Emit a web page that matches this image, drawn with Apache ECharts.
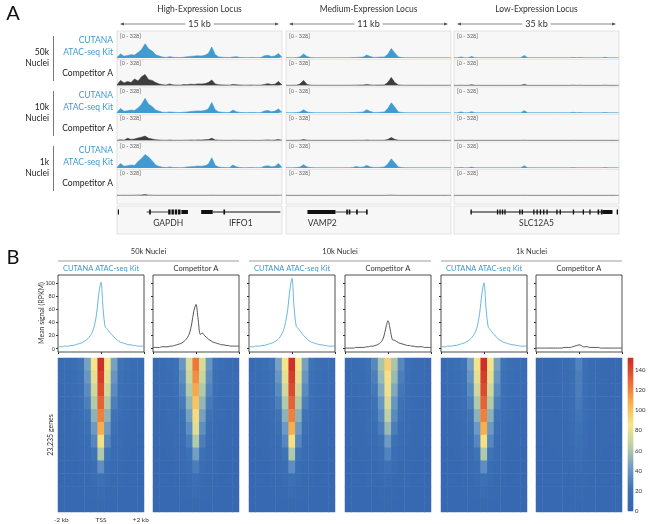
<!DOCTYPE html>
<html>
<head>
<meta charset="utf-8">
<script src="https://cdn.jsdelivr.net/npm/echarts@6/dist/echarts.min.js"></script>
<style>html,body{margin:0;padding:0;background:#fff}#main{width:650px;height:524px}</style>
</head>
<body>
<div id="main"></div>
<script>
// ---------- panel A track data (48 bins per locus, scale 0-328) ----------
var hiCut50   = [8,55,25,35,45,40,75,115,195,125,95,45,28,12,8,18,10,8,6,10,16,22,26,30,28,36,60,150,45,15,10,8,6,12,18,8,6,5,8,6,5,6,30,36,20,28,62,10];
var hiComp50  = [6,70,35,55,40,90,60,120,150,80,70,40,20,10,6,20,8,6,5,12,10,18,14,22,20,25,40,75,20,10,8,6,5,14,10,6,5,4,6,5,4,5,15,25,12,18,55,6];
var hiCut10   = [8,60,25,30,40,35,70,120,200,120,90,40,25,10,8,15,10,8,6,10,15,20,24,28,26,34,55,145,40,15,10,8,6,40,18,8,6,5,8,6,5,6,28,34,18,26,55,10];
var hiComp10  = [3,10,5,30,15,20,35,45,60,30,20,10,6,4,3,6,3,3,2,4,4,6,5,8,6,10,12,30,8,4,3,3,2,4,4,3,2,2,3,2,2,2,5,8,4,6,12,3];
var hiCut1    = [8,60,25,30,40,35,90,130,185,150,100,40,20,10,6,14,8,6,5,8,14,18,22,26,24,30,50,140,35,12,8,6,5,40,16,6,5,4,6,5,4,5,25,30,16,22,60,8];
var hiComp1   = [3,3,3,3,3,4,5,6,12,5,4,3,3,3,3,3,3,3,3,3,3,3,3,3,3,3,3,4,3,3,3,3,3,3,3,3,3,3,3,3,3,3,3,3,3,3,3,3];
var medCut50  = [4,4,4,6,15,55,20,6,4,4,3,3,3,3,3,3,3,5,4,6,8,10,12,40,20,8,10,12,14,50,130,70,15,6,4,4,3,3,3,3,3,3,3,3,3,3,3,3];
var medComp50 = [3,3,3,5,20,70,15,5,3,3,3,3,3,3,3,3,3,3,3,4,5,6,6,12,8,5,6,6,8,40,110,40,8,4,3,3,3,3,3,3,3,3,3,3,3,3,3,3];
var medCut10  = [4,4,4,6,12,45,15,6,4,4,3,3,3,3,3,3,3,5,4,6,8,10,14,45,20,8,8,10,14,60,140,80,15,6,4,4,3,3,3,3,3,3,3,3,3,3,3,3];
var medComp10 = [2,2,2,2,4,12,4,2,2,2,2,2,2,2,2,2,2,2,2,2,3,3,3,6,3,3,3,3,4,15,40,15,3,2,2,2,2,2,2,2,2,2,2,2,2,2,2,2];
var medCut1   = [4,4,4,6,12,45,15,6,4,4,3,3,3,3,3,3,3,5,4,6,20,10,14,35,15,8,8,10,14,55,125,70,15,6,4,4,3,3,3,3,3,3,3,3,3,3,3,3];
var medComp1  = [2,2,2,2,2,3,2,2,2,2,2,2,2,2,2,2,2,2,2,2,2,2,2,2,2,2,2,2,2,3,5,3,2,2,2,2,2,2,2,2,2,2,2,2,2,2,2,2];
var lowCut50  = [3,3,15,4,3,20,4,3,3,3,3,3,3,3,3,3,3,3,3,3,35,4,3,3,3,3,3,3,3,3,3,3,3,3,8,3,8,3,3,3,3,3,3,10,3,3,3,3];
var lowComp50 = [2,2,4,2,2,10,2,2,2,2,2,2,2,2,2,2,2,2,2,2,15,2,2,2,2,2,2,2,2,2,2,2,2,2,5,2,4,2,2,2,2,2,2,5,2,2,2,2];
var lowCut10  = [3,3,14,4,3,18,4,3,3,3,3,3,3,3,3,3,3,3,3,3,32,4,3,3,3,3,3,3,3,3,3,3,3,3,9,3,7,3,3,3,3,3,3,8,3,3,3,3];
var lowComp10 = [2,2,3,2,2,3,2,2,2,2,2,2,2,2,2,2,2,2,2,2,4,2,2,2,2,2,2,2,2,2,2,2,2,2,3,2,2,2,2,2,2,2,2,3,2,2,2,2];
var lowCut1   = [3,3,8,3,3,12,3,3,3,3,3,3,3,3,3,3,3,3,3,3,30,4,3,3,3,3,3,3,3,3,3,3,3,3,6,3,5,3,3,3,3,3,3,8,3,3,3,3];
var lowComp1  = [2,2,2,2,2,2,2,2,2,2,2,2,2,2,2,2,2,2,2,2,3,2,2,2,2,2,2,2,2,2,2,2,2,2,2,2,2,2,2,2,2,2,2,2,2,2,2,2];

var loci = ['High-Expression Locus', 'Medium-Expression Locus', 'Low-Expression Locus'];
var lociSpan = ['15 kb', '11 kb', '35 kb'];
var densities = ['50k', '10k', '1k'];

// gene models: [start %, end %, type] type 1 = intron line, 2 = exon, 3 = thick block
var genesHi  = [[0.5,1.2,2],[18,31,1],[19.5,20.5,2],[31,32.5,2],[33,34.5,2],[35,36.5,2],[37,38.5,2],[39,43,3],[51,58,3],[58,99,1],[64.5,65.5,2]];
var genesMed = [[13,30,3],[30,49,1],[36.5,37.5,2],[38,39,2],[42.5,43.5,2],[48.5,49.5,2]];
var genesLow = [[10,96,1],[10,10.8,2],[26,26.8,2],[27.5,28.3,2],[29,29.8,2],[30.5,31.3,2],[39.5,40.3,2],[41,41.8,2],[48,48.8,2],[50,50.8,2],[52,52.8,2],[54,54.8,2],[56,56.8,2],[62,62.8,2],[64,64.8,2],[72,72.8,2],[78,78.8,2],[82,82.8,2],[87,88,2],[89,90,2],[90,96,3],[98.6,99.4,2]];
var geneLabels = [[['GAPDH', 31], ['IFFO1', 75]], [['VAMP2', 22]], [['SLC12A5', 50]]];

// ---------- panel B mean profiles (-2 kb .. +2 kb, 41 bins) ----------
var profCut50  = [3,3,3,4,4,4,5,5,6,7,8,9,11,13,16,20,26,36,55,85,102,60,33,30,25,22,18,15,12,10,9,8,7,6,6,5,5,4,4,4,4];
var profComp50 = [2,2,2,2,3,3,3,3,4,4,5,6,7,8,10,13,17,24,38,58,68,45,22,24,20,17,14,12,10,9,8,7,6,6,5,5,4,4,4,4,4];
var profCut10  = [3,3,3,4,4,4,5,5,6,7,8,9,11,13,16,21,28,40,60,90,108,62,34,31,26,22,18,15,12,10,9,8,7,6,6,5,5,4,4,4,4];
var profComp10 = [1,1,1,1,1,2,2,2,2,2,3,3,4,4,5,6,8,11,18,32,43,30,14,13,11,9,8,7,6,5,5,4,4,3,3,3,3,2,2,2,2];
var profCut1   = [3,3,3,4,4,4,5,5,6,7,8,9,11,13,16,20,26,36,55,84,101,60,33,29,24,21,17,14,12,10,9,8,7,6,6,5,5,4,4,4,4];
var profComp1  = [1,1,1,1,1,1,1,1,1,1,1,1,1,2,2,2,2,3,4,5,6,5,3,3,3,2,2,2,2,2,1,1,1,1,1,1,1,1,1,1,1];
var profLabels = ['CUTANA ATAC-seq Kit', 'Competitor A'];
var profTicks = [0, 20, 40, 60, 80, 100];
var heatTicks = ['-2 kb', 'TSS', '+2 kb'];

// ---------- heatmaps: 12 rows (genes ranked) x 13 columns ----------
var heatCut = [
  [12,13,16,22,45,85,150,85,45,22,16,13,12],
  [10,12,14,20,40,80,145,80,40,20,14,12,10],
  [9,10,13,18,34,72,140,72,34,18,13,10,9],
  [8,9,11,15,28,62,132,62,28,15,11,9,8],
  [7,8,10,13,22,52,122,52,22,13,10,8,7],
  [7,7,9,11,18,42,108,42,18,11,9,7,7],
  [6,7,8,10,14,32,88,32,14,10,8,7,6],
  [6,6,7,9,11,22,62,22,11,9,7,6,6],
  [6,6,6,8,9,14,36,14,9,8,6,6,6],
  [6,6,6,7,8,10,18,10,8,7,6,6,6],
  [6,6,6,6,7,8,11,8,7,6,6,6,6],
  [6,6,6,6,6,6,8,6,6,6,6,6,6]
];
var heatComp50 = [
  [11,12,15,20,40,75,125,75,40,20,15,12,11],
  [10,11,13,18,35,70,118,70,35,18,13,11,10],
  [9,10,12,16,30,62,110,62,30,16,12,10,9],
  [8,9,11,14,25,54,100,54,25,14,11,9,8],
  [7,8,10,12,20,45,90,45,20,12,10,8,7],
  [7,7,9,11,16,36,78,36,16,11,9,7,7],
  [6,7,8,10,13,27,62,27,13,10,8,7,6],
  [6,6,7,9,11,19,44,19,11,9,7,6,6],
  [6,6,6,8,9,13,27,13,9,8,6,6,6],
  [6,6,6,7,8,9,15,9,8,7,6,6,6],
  [6,6,6,6,7,7,10,7,7,6,6,6,6],
  [6,6,6,6,6,6,7,6,6,6,6,6,6]
];
var heatComp10 = [
  [10,11,13,18,32,60,95,60,32,18,13,11,10],
  [9,10,12,16,28,55,88,55,28,16,12,10,9],
  [8,9,11,14,24,48,82,48,24,14,11,9,8],
  [8,8,10,13,20,40,75,40,20,13,10,8,8],
  [7,8,9,12,17,34,66,34,17,12,9,8,7],
  [7,7,8,10,14,27,55,27,14,10,8,7,7],
  [6,7,8,9,12,20,42,20,12,9,8,7,6],
  [6,6,7,8,10,15,30,15,10,8,7,6,6],
  [6,6,6,7,8,11,19,11,8,7,6,6,6],
  [6,6,6,7,7,8,11,8,7,7,6,6,6],
  [6,6,6,6,6,7,8,7,6,6,6,6,6],
  [6,6,6,6,6,6,7,6,6,6,6,6,6]
];
var heatComp1 = [
  [7,7,8,9,11,17,30,17,11,9,8,7,7],
  [7,7,8,9,10,16,28,16,10,9,8,7,7],
  [7,7,7,8,10,15,27,15,10,8,7,7,7],
  [7,7,7,8,9,14,25,14,9,8,7,7,7],
  [7,7,7,8,9,13,23,13,9,8,7,7,7],
  [6,7,7,7,8,12,21,12,8,7,7,7,6],
  [6,6,7,7,8,10,17,10,8,7,7,6,6],
  [6,6,6,7,7,9,13,9,7,7,6,6,6],
  [6,6,6,6,7,8,10,8,7,6,6,6,6],
  [6,6,6,6,6,7,8,7,6,6,6,6,6],
  [6,6,6,6,6,6,7,6,6,6,6,6,6],
  [6,6,6,6,6,6,6,6,6,6,6,6,6]
];

var BLUE = '#3f9bd0', DARK = '#3d3d3d', FONT = 'Lato';
var chart = echarts.init(document.getElementById('main'));
var grids = [], xAxes = [], yAxes = [], series = [], g = [];

function txt(x, y, s, o) {
  o = o || {};
  g.push({type: 'text', x: x, y: y, rotation: o.rot || 0, z: 50,
    style: {text: s, fill: o.fill || '#333', font: (o.size || 9) + 'px ' + FONT,
      textAlign: o.align || 'center', textVerticalAlign: 'middle'}});
}
function ln(x1, y1, x2, y2, c, w) {
  g.push({type: 'line', z: 40, shape: {x1: x1, y1: y1, x2: x2, y2: y2}, style: {stroke: c || '#555', lineWidth: w || 0.8}});
}
function rect(x, y, w, h, fill, stroke) {
  g.push({type: 'rect', z: -10, shape: {x: x, y: y, width: w, height: h}, style: {fill: fill, stroke: stroke, lineWidth: 0.8}});
}

// ---------- Panel A ----------
txt(13, 14, 'A', {size: 20, fill: '#111'});
var colX = [117, 286, 454], colW = 165, trTop = 33, trStep = 27.5;
var tracks = [
  [hiCut50, hiComp50, hiCut10, hiComp10, hiCut1, hiComp1],
  [medCut50, medComp50, medCut10, medComp10, medCut1, medComp1],
  [lowCut50, lowComp50, lowCut10, lowComp10, lowCut1, lowComp1]
];
var geneSets = [genesHi, genesMed, genesLow];
var bins = hiCut50.map(function (v, i) { return i; });

colX.forEach(function (cx, c) {
  txt(cx + colW / 2, 9, loci[c], {size: 8.5});
  ln(cx + 4, 24, cx + colW - 4, 24, '#555', 0.7);
  g.push({type: 'polygon', z: 41, shape: {points: [[cx + 3, 24], [cx + 7, 22.5], [cx + 7, 25.5]]}, style: {fill: '#555'}});
  g.push({type: 'polygon', z: 41, shape: {points: [[cx + colW - 3, 24], [cx + colW - 7, 22.5], [cx + colW - 7, 25.5]]}, style: {fill: '#555'}});
  g.push({type: 'text', x: cx + colW / 2, y: 24, z: 45,
    style: {text: lociSpan[c], fill: '#333', font: '9px ' + FONT, textAlign: 'center', textVerticalAlign: 'middle',
      backgroundColor: '#fff', padding: [0, 3]}});
  rect(cx, 31, colW, 173, '#f7f7f7', '#dcdcdc');
  rect(cx, 206, colW, 28, '#f7f7f7', '#dcdcdc');
  tracks[c].forEach(function (arr, r) {
    var top = trTop + r * trStep;
    if (r > 0) ln(cx, top - 1, cx + colW, top - 1, '#dedede', 0.7);
    txt(cx + 3, top + 3, '[0 - 328]', {size: 5.5, fill: '#666', align: 'left'});
    var gi = grids.length;
    grids.push({left: cx, top: top + 1, width: colW, height: 24});
    xAxes.push({gridIndex: gi, type: 'value', min: 0, max: bins.length - 1, show: false});
    yAxes.push({gridIndex: gi, type: 'value', min: 0, max: 328, show: false});
    var col = r % 2 === 0 ? BLUE : DARK;
    series.push({type: 'line', xAxisIndex: gi, yAxisIndex: gi, showSymbol: false, silent: true,
      data: arr.map(function (v, i) { return [i, v]; }),
      lineStyle: {color: col, width: 0.6}, areaStyle: {color: col, opacity: 1}});
  });
  // gene models
  var gi = grids.length;
  grids.push({left: cx, top: 208, width: colW, height: 8});
  xAxes.push({gridIndex: gi, type: 'value', min: 0, max: 100, show: false});
  yAxes.push({gridIndex: gi, type: 'value', min: 0, max: 1, show: false});
  series.push({type: 'custom', xAxisIndex: gi, yAxisIndex: gi, silent: true, data: geneSets[c],
    renderItem: function (params, api) {
      var a = api.coord([api.value(0), 0.5]), b = api.coord([api.value(1), 0.5]);
      var h = [0, 0.8, 5, 4][api.value(2)];
      return {type: 'rect', shape: {x: a[0], y: a[1] - h / 2, width: Math.max(b[0] - a[0], 1), height: h}, style: {fill: '#111'}};
    }});
  geneLabels[c].forEach(function (l) { txt(cx + colW * l[1] / 100, 223, l[0], {size: 8.5}); });
});
densities.forEach(function (d, k) {
  var o = k * 55;
  txt(113, 40 + o, 'CUTANA', {size: 8.5, fill: BLUE, align: 'right'});
  txt(113, 52 + o, 'ATAC-seq Kit', {size: 8.5, fill: BLUE, align: 'right'});
  txt(113, 73 + o, 'Competitor A', {size: 8.5, fill: '#222', align: 'right'});
  txt(49, 52 + o, d, {size: 8.5, fill: '#222', align: 'right'});
  txt(49, 63 + o, 'Nuclei', {size: 8.5, fill: '#222', align: 'right'});
  ln(53.5, 36 + o, 53.5, 81 + o, '#555', 0.8);
});

// ---------- Panel B ----------
txt(13, 258, 'B', {size: 20, fill: '#111'});
var bX = [58, 153, 249, 345, 441, 536], bW = 86;
var profs = [profCut50, profComp50, profCut10, profComp10, profCut1, profComp1];
var heats = [heatCut, heatComp50, heatCut, heatComp10, heatCut, heatComp1];
var xs = profCut50.map(function (v, i) { return i - 20; });
var heatSeriesIdx = [];
densities.forEach(function (d, k) {
  var l = bX[2 * k], r = bX[2 * k + 1] + bW;
  txt((l + r) / 2, 252, d + ' Nuclei', {size: 7.5});
  ln(l, 261, r, 261, '#777', 0.7);
});
bX.forEach(function (x, i) {
  var blue = i % 2 === 0;
  txt(x + bW / 2, 268.5, profLabels[i % 2], {size: 7.5, fill: blue ? BLUE : '#333'});
  var gi = grids.length;
  grids.push({left: x, top: 275, width: bW, height: 77, show: true, borderColor: '#222', borderWidth: 0.8, backgroundColor: '#fff'});
  xAxes.push({gridIndex: gi, type: 'value', min: -20, max: 20, interval: 20,
    axisLine: {show: false, onZero: false}, axisTick: {length: 2, lineStyle: {color: '#333'}}, axisLabel: {show: false}, splitLine: {show: false}});
  yAxes.push({gridIndex: gi, type: 'value', min: -5, max: 113,
    axisLine: {show: false, onZero: false},
    axisTick: {length: 2, customValues: profTicks, lineStyle: {color: '#333'}},
    axisLabel: {show: i === 0, customValues: profTicks, fontSize: 5.5, color: '#333', margin: 3, fontFamily: FONT},
    splitLine: {show: false}});
  series.push({type: 'line', xAxisIndex: gi, yAxisIndex: gi, showSymbol: false, silent: true, smooth: 0.3,
    data: profs[i].map(function (v, j) { return [xs[j], v]; }),
    lineStyle: {color: blue ? '#5aaed8' : '#444', width: 0.9}});

  var hi = grids.length;
  grids.push({left: x, top: 358, width: bW, height: 154});
  var cols = heats[i][0].map(function (v, j) { return j; });
  xAxes.push({gridIndex: hi, type: 'category', data: cols,
    axisLine: {show: false}, splitLine: {show: false},
    axisTick: {length: 2, interval: function (idx) { return idx % 6 === 0; }, alignWithLabel: true, lineStyle: {color: '#333'}},
    axisLabel: {show: i === 0, interval: function (idx) { return idx % 6 === 0; }, fontSize: 6.5, color: '#333', margin: 4, fontFamily: FONT,
      formatter: function (v, idx) { return heatTicks[idx / 6]; }}});
  yAxes.push({gridIndex: hi, type: 'category', inverse: true, show: false,
    data: heats[i].map(function (row, j) { return j; })});
  var data = [];
  heats[i].forEach(function (row, ri) { row.forEach(function (v, ci) { data.push([ci, ri, v]); }); });
  heatSeriesIdx.push(series.length);
  series.push({type: 'heatmap', xAxisIndex: hi, yAxisIndex: hi, data: data, silent: true, progressive: 0});
});
txt(42, 313, 'Mean signal (RPKM)', {size: 7, rot: Math.PI / 2});
txt(51, 435, '23,235 genes', {size: 7, rot: Math.PI / 2});

// colour bar
var cbVals = [];
for (var v = 0; v <= 152; v++) cbVals.push(v);
var cb = grids.length;
grids.push({left: 628, top: 358, width: 5, height: 153});
xAxes.push({gridIndex: cb, type: 'category', data: [0], show: false});
yAxes.push({gridIndex: cb, type: 'category', data: cbVals, show: false});
var cbAx = yAxes.length;
yAxes.push({gridIndex: cb, type: 'value', min: 0, max: 152, interval: 20, position: 'right',
  axisLine: {show: false}, axisTick: {length: 2, lineStyle: {color: '#333'}},
  axisLabel: {fontSize: 6, color: '#333', margin: 2, fontFamily: FONT, formatter: function (v) { return v <= 140 ? v : ''; }},
  splitLine: {show: false}});
heatSeriesIdx.push(series.length);
series.push({type: 'heatmap', xAxisIndex: cb, yAxisIndex: cb, silent: true, progressive: 0,
  data: cbVals.map(function (v, i) { return [0, i, v]; })});
series.push({type: 'line', xAxisIndex: cb, yAxisIndex: cbAx, data: [], silent: true});

chart.setOption({
  animation: false,
  textStyle: {fontFamily: FONT},
  grid: grids, xAxis: xAxes, yAxis: yAxes, series: series,
  visualMap: {show: false, type: 'continuous', min: 0, max: 150, seriesIndex: heatSeriesIdx,
    inRange: {color: ['#3566b0', '#3d72b6', '#6f9cc4', '#b9cfa6', '#f6e58a', '#f7b24f', '#ec6b34', '#cf2f2a']}},
  graphic: g
});
</script>
</body>
</html>
